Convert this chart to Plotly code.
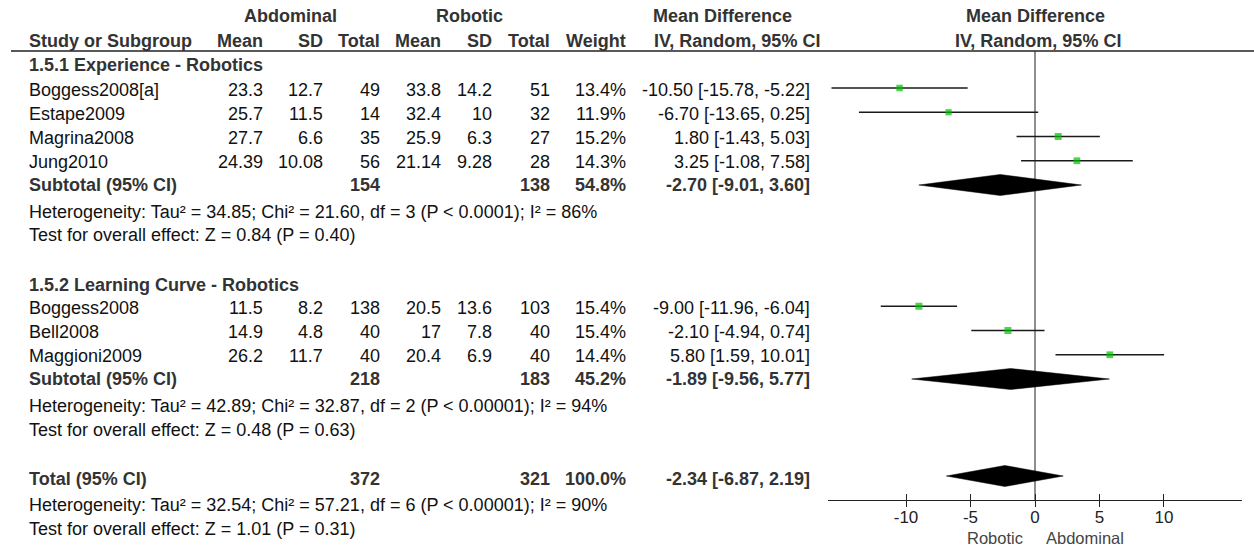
import plotly.graph_objects as go

# ---------------- data ----------------
studies = ["Boggess2008[a]", "Estape2009", "Magrina2008", "Jung2010",
           "Boggess2008", "Bell2008", "Maggioni2009"]
abd_mean = [23.3, 25.7, 27.7, 24.39, 11.5, 14.9, 26.2]
abd_sd = [12.7, 11.5, 6.6, 10.08, 8.2, 4.8, 11.7]
abd_n = [49, 14, 35, 56, 138, 40, 40]
rob_mean = [33.8, 32.4, 25.9, 21.14, 20.5, 17, 20.4]
rob_sd = [14.2, 10, 6.3, 9.28, 13.6, 7.8, 6.9]
rob_n = [51, 32, 27, 28, 103, 40, 40]
weight = [13.4, 11.9, 15.2, 14.3, 15.4, 15.4, 14.4]
md = [-10.50, -6.70, 1.80, 3.25, -9.00, -2.10, 5.80]
md_lo = [-15.78, -13.65, -1.43, -1.08, -11.96, -4.94, 1.59]
md_hi = [-5.22, 0.25, 5.03, 7.58, -6.04, 0.74, 10.01]

group_titles = ["1.5.1 Experience - Robotics", "1.5.2 Learning Curve - Robotics"]
pooled_names = ["Subtotal (95% CI)", "Subtotal (95% CI)", "Total (95% CI)"]
pooled_abd_n = [154, 218, 372]
pooled_rob_n = [138, 183, 321]
pooled_weight = [54.8, 45.2, 100.0]
pooled_md = [-2.70, -1.89, -2.34]
pooled_lo = [-9.01, -9.56, -6.87]
pooled_hi = [3.60, 5.77, 2.19]
heterogeneity = [
    "Heterogeneity: Tau² = 34.85; Chi² = 21.60, df = 3 (P < 0.0001); I² = 86%",
    "Heterogeneity: Tau² = 42.89; Chi² = 32.87, df = 2 (P < 0.00001); I² = 94%",
    "Heterogeneity: Tau² = 32.54; Chi² = 57.21, df = 6 (P < 0.00001); I² = 90%",
]
overall_tests = [
    "Test for overall effect: Z = 0.84 (P = 0.40)",
    "Test for overall effect: Z = 0.48 (P = 0.63)",
    "Test for overall effect: Z = 1.01 (P = 0.31)",
]
tick_vals = [-10, -5, 0, 5, 10]
tick_text = ["-10", "-5", "0", "5", "10"]
favours = ["Robotic", "Abdominal"]

# ---------------- layout (pixel geometry) ----------------
W, H = 1254, 546
FONT = "Liberation Sans, Arial, Helvetica, sans-serif"
FS = 18
BLACK = "#111111"
BOLDC = "#333333"
ROW0, STEP = 88, 24.25
study_row_idx = [0, 1, 2, 3, 9, 10, 11]
pooled_row_idx = [4, 12, 16]
group_title_idx = [-1, 8.1]
het_idx = [5.1, 13.1, 17.2]
test_idx = [6.05, 14.1, 18.2]


def ry(i):
    return ROW0 + i * STEP


# column right edges (px)
C_LABEL = 26.7
C_AM, C_AS, C_AN = 265, 325, 381.7
C_RM, C_RS, C_RN = 443.3, 494.3, 551.7
C_W = 628.3
C_CI = 812.3

AX_L, AX_R = 828, 1242
AX_Y = 500
HEAD_LINE_Y = 51

annotations = []


def txt(x, y, s, anchor="left", bold=False, size=FS, color=None):
    annotations.append(dict(
        x=x / W, y=y, xref="paper", yref="y", text=f"<b>{s}</b>" if bold else s,
        showarrow=False, xanchor=anchor, yanchor="middle",
        font=dict(family=FONT, size=size, color=color or (BOLDC if bold else BLACK)),
    ))


# headers
txt(290.8, 16, "Abdominal", "center", True)
txt(469, 16, "Robotic", "center", True)
txt(651, 16, "Mean Difference", "left", True)
txt(1035, 16, "Mean Difference", "center", True)
txt(C_LABEL, 41, "Study or Subgroup", "left", True)
for x, s in [(C_AM, "Mean"), (C_AS, "SD"), (C_AN, "Total"), (C_RM, "Mean"),
             (C_RS, "SD"), (C_RN, "Total"), (C_W, "Weight")]:
    txt(x, 41, s, "right", True)
txt(652, 41, "IV, Random, 95% CI", "left", True)
txt(1038, 41, "IV, Random, 95% CI", "center", True)

# group titles
for gi, t in zip(group_title_idx, group_titles):
    txt(C_LABEL, ry(gi) + 1, t, "left", True)

# study rows
for k, name in enumerate(studies):
    y = ry(study_row_idx[k]) + 1.5
    txt(C_LABEL, y, name)
    txt(C_AM, y, f"{abd_mean[k]:g}", "right")
    txt(C_AS, y, f"{abd_sd[k]:g}", "right")
    txt(C_AN, y, f"{abd_n[k]}", "right")
    txt(C_RM, y, f"{rob_mean[k]:g}", "right")
    txt(C_RS, y, f"{rob_sd[k]:g}", "right")
    txt(C_RN, y, f"{rob_n[k]}", "right")
    txt(C_W, y, f"{weight[k]:.1f}%", "right")
    txt(C_CI, y, f"{md[k]:.2f} [{md_lo[k]:.2f}, {md_hi[k]:.2f}]", "right")

# pooled rows
for k, name in enumerate(pooled_names):
    y = ry(pooled_row_idx[k]) - 0.5
    if k == 2:
        y += 3
    txt(C_LABEL, y, name, "left", True)
    txt(C_AN, y, f"{pooled_abd_n[k]}", "right", True)
    txt(C_RN, y, f"{pooled_rob_n[k]}", "right", True)
    txt(C_W, y, f"{pooled_weight[k]:.1f}%", "right", True)
    txt(C_CI, y, f"{pooled_md[k]:.2f} [{pooled_lo[k]:.2f}, {pooled_hi[k]:.2f}]", "right", True)
    txt(C_LABEL, ry(het_idx[k]), heterogeneity[k])
    txt(C_LABEL, ry(test_idx[k]), overall_tests[k])

# favours labels
txt(995, 537.5, favours[0], "center", size=16.5, color="#444444")
txt(1085, 537.5, favours[1], "center", size=16.5, color="#444444")

fig = go.Figure()

# confidence interval lines
for k in range(len(studies)):
    y = ry(study_row_idx[k])
    fig.add_trace(go.Scatter(
        x=[md_lo[k], md_hi[k]], y=[y, y], mode="lines",
        line=dict(color="#1a1a1a", width=1.5), hoverinfo="skip", showlegend=False,
    ))

# point estimates (green squares sized by weight)
fig.add_trace(go.Scatter(
    x=md, y=[ry(i) for i in study_row_idx], mode="markers",
    marker=dict(symbol="square", color="#00C000",
                size=[7.0 * (w / 15.4) ** 0.5 for w in weight], line=dict(width=0)),
    showlegend=False, hoverinfo="skip",
))

# diamonds
DH = 10.5
for k in range(len(pooled_md)):
    y = ry(pooled_row_idx[k])
    fig.add_trace(go.Scatter(
        x=[pooled_lo[k], pooled_md[k], pooled_hi[k], pooled_md[k], pooled_lo[k]],
        y=[y, y - DH, y, y + DH, y], mode="lines", fill="toself",
        fillcolor="black", line=dict(color="black", width=0.5),
        showlegend=False, hoverinfo="skip",
    ))

# dummy trace for overlay axis (inside ticks)
fig.add_trace(go.Scatter(x=[None], y=[None], xaxis="x2", yaxis="y",
                         showlegend=False, hoverinfo="skip"))

xr = [-16.05, 16.05]
dom = [AX_L / W, AX_R / W]
pos = (H - AX_Y) / H

fig.update_layout(
    width=W, height=H, autosize=False,
    margin=dict(l=0, r=0, t=0, b=0),
    paper_bgcolor="white", plot_bgcolor="white",
    xaxis=dict(range=xr, domain=dom, anchor="free", position=pos,
               showline=True, linecolor="#222222", linewidth=1.3,
               ticks="outside", ticklen=6, tickwidth=1.3, tickcolor="#222222",
               tickvals=tick_vals, ticktext=tick_text, ticklabelstandoff=-5,
               tickfont=dict(family=FONT, size=17, color="#222222"),
               showgrid=False, zeroline=False, fixedrange=True),
    xaxis2=dict(range=xr, domain=dom, anchor="free", position=pos, overlaying="x",
                showline=False, ticks="inside", ticklen=6, tickwidth=1.3,
                tickcolor="#222222", tickvals=tick_vals, showticklabels=False,
                showgrid=False, zeroline=False, fixedrange=True),
    yaxis=dict(range=[H, 0], domain=[0, 1], visible=False, fixedrange=True),
    shapes=[
        dict(type="line", xref="paper", yref="y", x0=11 / W, x1=1.0,
             y0=HEAD_LINE_Y, y1=HEAD_LINE_Y, line=dict(color="#222222", width=1.6)),
        dict(type="line", xref="x", yref="y", x0=0, x1=0, y0=HEAD_LINE_Y, y1=AX_Y,
             line=dict(color="#444444", width=1.2), layer="below"),
    ],
    annotations=annotations,
)

fig.write_html("out.html", config={"displayModeBar": False},
               post_script="document.body.style.margin='0px';document.body.style.overflow='hidden';")
